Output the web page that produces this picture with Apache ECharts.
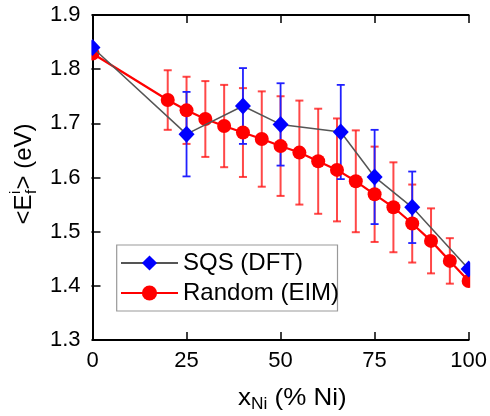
<!DOCTYPE html>
<html><head><meta charset="utf-8">
<script src="https://cdn.jsdelivr.net/npm/echarts@6/dist/echarts.min.js"></script>
<style>html,body{margin:0;padding:0;background:#fff}#c{width:490px;height:416px}</style>
</head><body><div id="c"></div>
<script>
var xTicks = [0, 25, 50, 75, 100];
var yTicks = [1.3, 1.4, 1.5, 1.6, 1.7, 1.8, 1.9];
var sqsX = [0, 25, 40, 50, 66, 75, 85, 100];
var sqsY = [1.840, 1.680, 1.732, 1.698, 1.684, 1.601, 1.545, 1.431];
var sqsErr = [0, 0.078, 0.070, 0.076, 0.087, 0.087, 0.066, 0];
var randX = [0, 20, 25, 30, 35, 40, 45, 50, 55, 60, 65, 70, 75, 80, 85, 90, 95, 100];
var randY = [1.829, 1.743, 1.724, 1.708, 1.695, 1.683, 1.671, 1.658, 1.646, 1.630, 1.614, 1.593, 1.569, 1.545, 1.515, 1.483, 1.446, 1.409];
var randErr = [0, 0.055, 0.062, 0.070, 0.076, 0.082, 0.088, 0.092, 0.096, 0.097, 0.095, 0.094, 0.088, 0.083, 0.072, 0.060, 0.042, 0];
var seriesNames = ['SQS (DFT)', 'Random (EIM)'];

var FONT = '"Liberation Sans", Arial, sans-serif';
function pairs(xs, ys) { return xs.map(function (x, i) { return [x, ys[i]]; }); }
function errData(xs, ys, es) { return xs.map(function (x, i) { return [x, ys[i] - es[i], ys[i] + es[i]]; }).filter(function (d, i) { return es[i] > 0; }); }
function errRender(color, width) {
  return function (params, api) {
    var lo = api.coord([api.value(0), api.value(1)]);
    var hi = api.coord([api.value(0), api.value(2)]);
    var cw = 4;
    var st = { stroke: color, lineWidth: width };
    return { type: 'group', children: [
      { type: 'line', shape: { x1: lo[0], y1: lo[1], x2: hi[0], y2: hi[1] }, style: st },
      { type: 'line', shape: { x1: lo[0] - cw, y1: lo[1], x2: lo[0] + cw, y2: lo[1] }, style: st },
      { type: 'line', shape: { x1: hi[0] - cw, y1: hi[1], x2: hi[0] + cw, y2: hi[1] }, style: st }
    ]};
  };
}
var cv = document.createElement('canvas').getContext('2d');
function tw(t, size) { cv.font = size + 'px ' + FONT; return cv.measureText(t).width; }

// y-axis title pieces
var yBig = 24, ySmall = 15;
var y1 = '<E', y2 = '> (eV)';
var wy1 = tw(y1, yBig), wyi = tw('i', ySmall), wyf = tw('f', ySmall), wy2 = tw(y2, yBig);
var wySub = Math.max(wyi, wyf) + 1;
var yW = wy1 + wySub + wy2;
var yx0 = -yW / 2;
// x-axis title pieces
var xBig = 24, xSmall = 16;
var wx1 = tw('x', xBig), wxs = tw('Ni', xSmall), wx2 = tw(' (% Ni)', xBig);
var xW = wx1 + wxs + wx2;
var xScale = 108.7 / xW;
var xx0 = -xW / 2;

var chart = echarts.init(document.getElementById('c'), null, { renderer: 'canvas' });
var axisLineStyle = { color: '#000', width: 2 };
var tickStyle = { inside: true, length: 8, lineStyle: { color: '#000', width: 1.5 } };
chart.setOption({
  animation: false,
  backgroundColor: '#fff',
  grid: { left: 92.5, right: 21, top: 15, bottom: 76 },
  xAxis: [
    { type: 'value', min: 0, max: 100, interval: 25, position: 'bottom',
      axisLine: { lineStyle: axisLineStyle }, axisTick: tickStyle,
      axisLabel: { fontSize: 22, color: '#000', fontFamily: FONT, margin: 10 }, splitLine: { show: false } },
    { type: 'value', min: 0, max: 100, interval: 25, position: 'top',
      axisLine: { lineStyle: axisLineStyle }, axisTick: tickStyle,
      axisLabel: { show: false }, splitLine: { show: false } }
  ],
  yAxis: [
    { type: 'value', min: 1.3, max: 1.9, interval: 0.1, position: 'left',
      axisLine: { show: true, lineStyle: axisLineStyle }, axisTick: Object.assign({ show: true }, tickStyle),
      axisLabel: { fontSize: 22, color: '#000', fontFamily: FONT, margin: 12, formatter: function (v) { return v.toFixed(1); } },
      splitLine: { show: false } },
    { type: 'value', min: 1.3, max: 1.9, interval: 0.1, position: 'right',
      axisLine: { show: true, lineStyle: axisLineStyle }, axisTick: Object.assign({ show: true }, tickStyle),
      axisLabel: { show: false }, splitLine: { show: false } }
  ],
  legend: {
    orient: 'vertical', left: 120, top: 251, padding: 0, itemGap: 6,
    itemWidth: 57, itemHeight: 19, z: 20,
    textStyle: { fontSize: 24, color: '#000', fontFamily: FONT },
    data: seriesNames
  },
  series: [
    { type: 'custom', name: 'randErr', renderItem: errRender('rgba(255,20,20,0.78)', 2), data: errData(randX, randY, randErr), z: 2, silent: true },
    { type: 'custom', name: 'sqsErr', renderItem: errRender('#2020ff', 1.8), data: errData(sqsX, sqsY, sqsErr), z: 3, silent: true },
    { type: 'line', name: seriesNames[1], data: pairs(randX, randY), symbol: 'circle', symbolSize: 14, clip: false,
      lineStyle: { color: '#ff0000', width: 2.2 }, itemStyle: { color: '#ff0000' }, z: 4 },
    { type: 'line', name: seriesNames[0], data: pairs(sqsX, sqsY), symbol: 'diamond', symbolSize: [16, 17], clip: false,
      lineStyle: { color: '#555', width: 1.5 }, itemStyle: { color: '#0000ff' }, z: 5 }
  ],
  graphic: [
    { type: 'rect', z: 10, shape: { x: 82, y: 0, width: 9.4, height: 345 }, style: { fill: '#fff' }, silent: true },
    { type: 'rect', z: 10, shape: { x: 470.2, y: 0, width: 20, height: 345 }, style: { fill: '#fff' }, silent: true },
    { type: 'rect', z: 9, shape: { x: 116.7, y: 245, width: 220.8, height: 66 }, style: { fill: '#fff', stroke: '#999', lineWidth: 1.2 }, silent: true },
    { type: 'group', x: 24, y: 174, rotation: Math.PI / 2, children: [
      { type: 'text', x: yx0, y: 0, style: { text: y1, font: yBig + 'px ' + FONT, fill: '#000', textVerticalAlign: 'middle' } },
      { type: 'text', x: yx0 + wy1 + 0.5, y: -8, style: { text: 'i', font: ySmall + 'px ' + FONT, fill: '#000', textVerticalAlign: 'middle' } },
      { type: 'text', x: yx0 + wy1 + 0.5, y: 8, style: { text: 'f', font: ySmall + 'px ' + FONT, fill: '#000', textVerticalAlign: 'middle' } },
      { type: 'text', x: yx0 + wy1 + wySub, y: 0, style: { text: y2, font: yBig + 'px ' + FONT, fill: '#000', textVerticalAlign: 'middle' } }
    ]},
    { type: 'group', x: 292.4, y: 398, scaleX: xScale, children: [
      { type: 'text', x: xx0, y: 0, style: { text: 'x', font: xBig + 'px ' + FONT, fill: '#000', textVerticalAlign: 'middle' } },
      { type: 'text', x: xx0 + wx1, y: 7, style: { text: 'Ni', font: xSmall + 'px ' + FONT, fill: '#000', textVerticalAlign: 'middle' } },
      { type: 'text', x: xx0 + wx1 + wxs, y: 0, style: { text: ' (% Ni)', font: xBig + 'px ' + FONT, fill: '#000', textVerticalAlign: 'middle' } }
    ]}
  ]
});
</script></body></html>
